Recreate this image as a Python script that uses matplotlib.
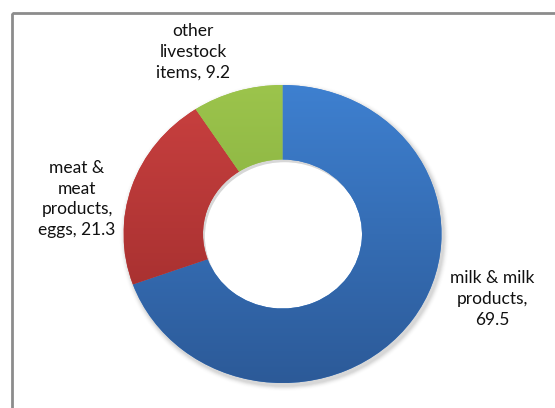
import numpy as np
import matplotlib
matplotlib.use("Agg")
import matplotlib.pyplot as plt
from matplotlib.colors import LinearSegmentedColormap
from matplotlib.patches import Rectangle

categories = ["milk & milk\nproducts,\n69.5", "meat &\nmeat\nproducts,\neggs, 21.3", "other\nlivestock\nitems, 9.2"]
values = [69.5, 21.3, 9.2]
top_colors = ["#3e80d0", "#ca4140", "#9cc44c"]
bottom_colors = ["#2c5a98", "#9a2a2a", "#76a036"]
label_xy = [(492, 299), (77, 199), (193, 52)]

W, H = 555, 408
fig = plt.figure(figsize=(W / 100, H / 100), dpi=100)
fig.patch.set_facecolor("white")

# chart frame (runs off the right and bottom edges)
frame_ax = fig.add_axes([0, 0, 1, 1])
frame_ax.set_xlim(0, W)
frame_ax.set_ylim(H, 0)
frame_ax.axis("off")
frame_ax.add_patch(Rectangle((12, 13), W + 20, H + 20, fill=False,
                             edgecolor="#8c8c8c", linewidth=2))

# donut axes: slightly wider than tall
cx, cy, rx, ry = 282.5, 234, 159, 149
ax = fig.add_axes([(cx - rx) / W, (H - cy - ry) / H, 2 * rx / W, 2 * ry / H])

# soft shadow under the ring
for i, a in enumerate(np.linspace(0.10, 0.015, 6)):
    s = ax.pie([1], radius=1.0 + 0.006 * (i + 1), center=(0.012, -0.018),
               colors=["#808080"], startangle=90,
               wedgeprops=dict(width=0.5 + 0.006 * (i + 1), linewidth=0, alpha=a))

wedges, _ = ax.pie(values, radius=1.0, startangle=90, counterclock=False,
                   colors=top_colors, wedgeprops=dict(width=0.5, linewidth=0))

grad = np.linspace(0, 1, 256).reshape(-1, 1)
for w, c0, c1 in zip(wedges, top_colors, bottom_colors):
    cmap = LinearSegmentedColormap.from_list("g", [c0, c1])
    im = ax.imshow(grad, cmap=cmap, extent=(-1, 1, -1, 1), origin="upper",
                   interpolation="bilinear", zorder=w.get_zorder() + 0.1)
    im.set_clip_path(w)

ax.set_xlim(-1, 1)
ax.set_ylim(-1, 1)
ax.set_aspect("auto")
ax.axis("off")

for text, (x, y) in zip(categories, label_xy):
    frame_ax.text(x, y, text, ha="center", va="center", fontsize=12.5,
                  family="Lato", color="#111111", linespacing=1.36)

fig.savefig("out.png", dpi=100, facecolor="white")
